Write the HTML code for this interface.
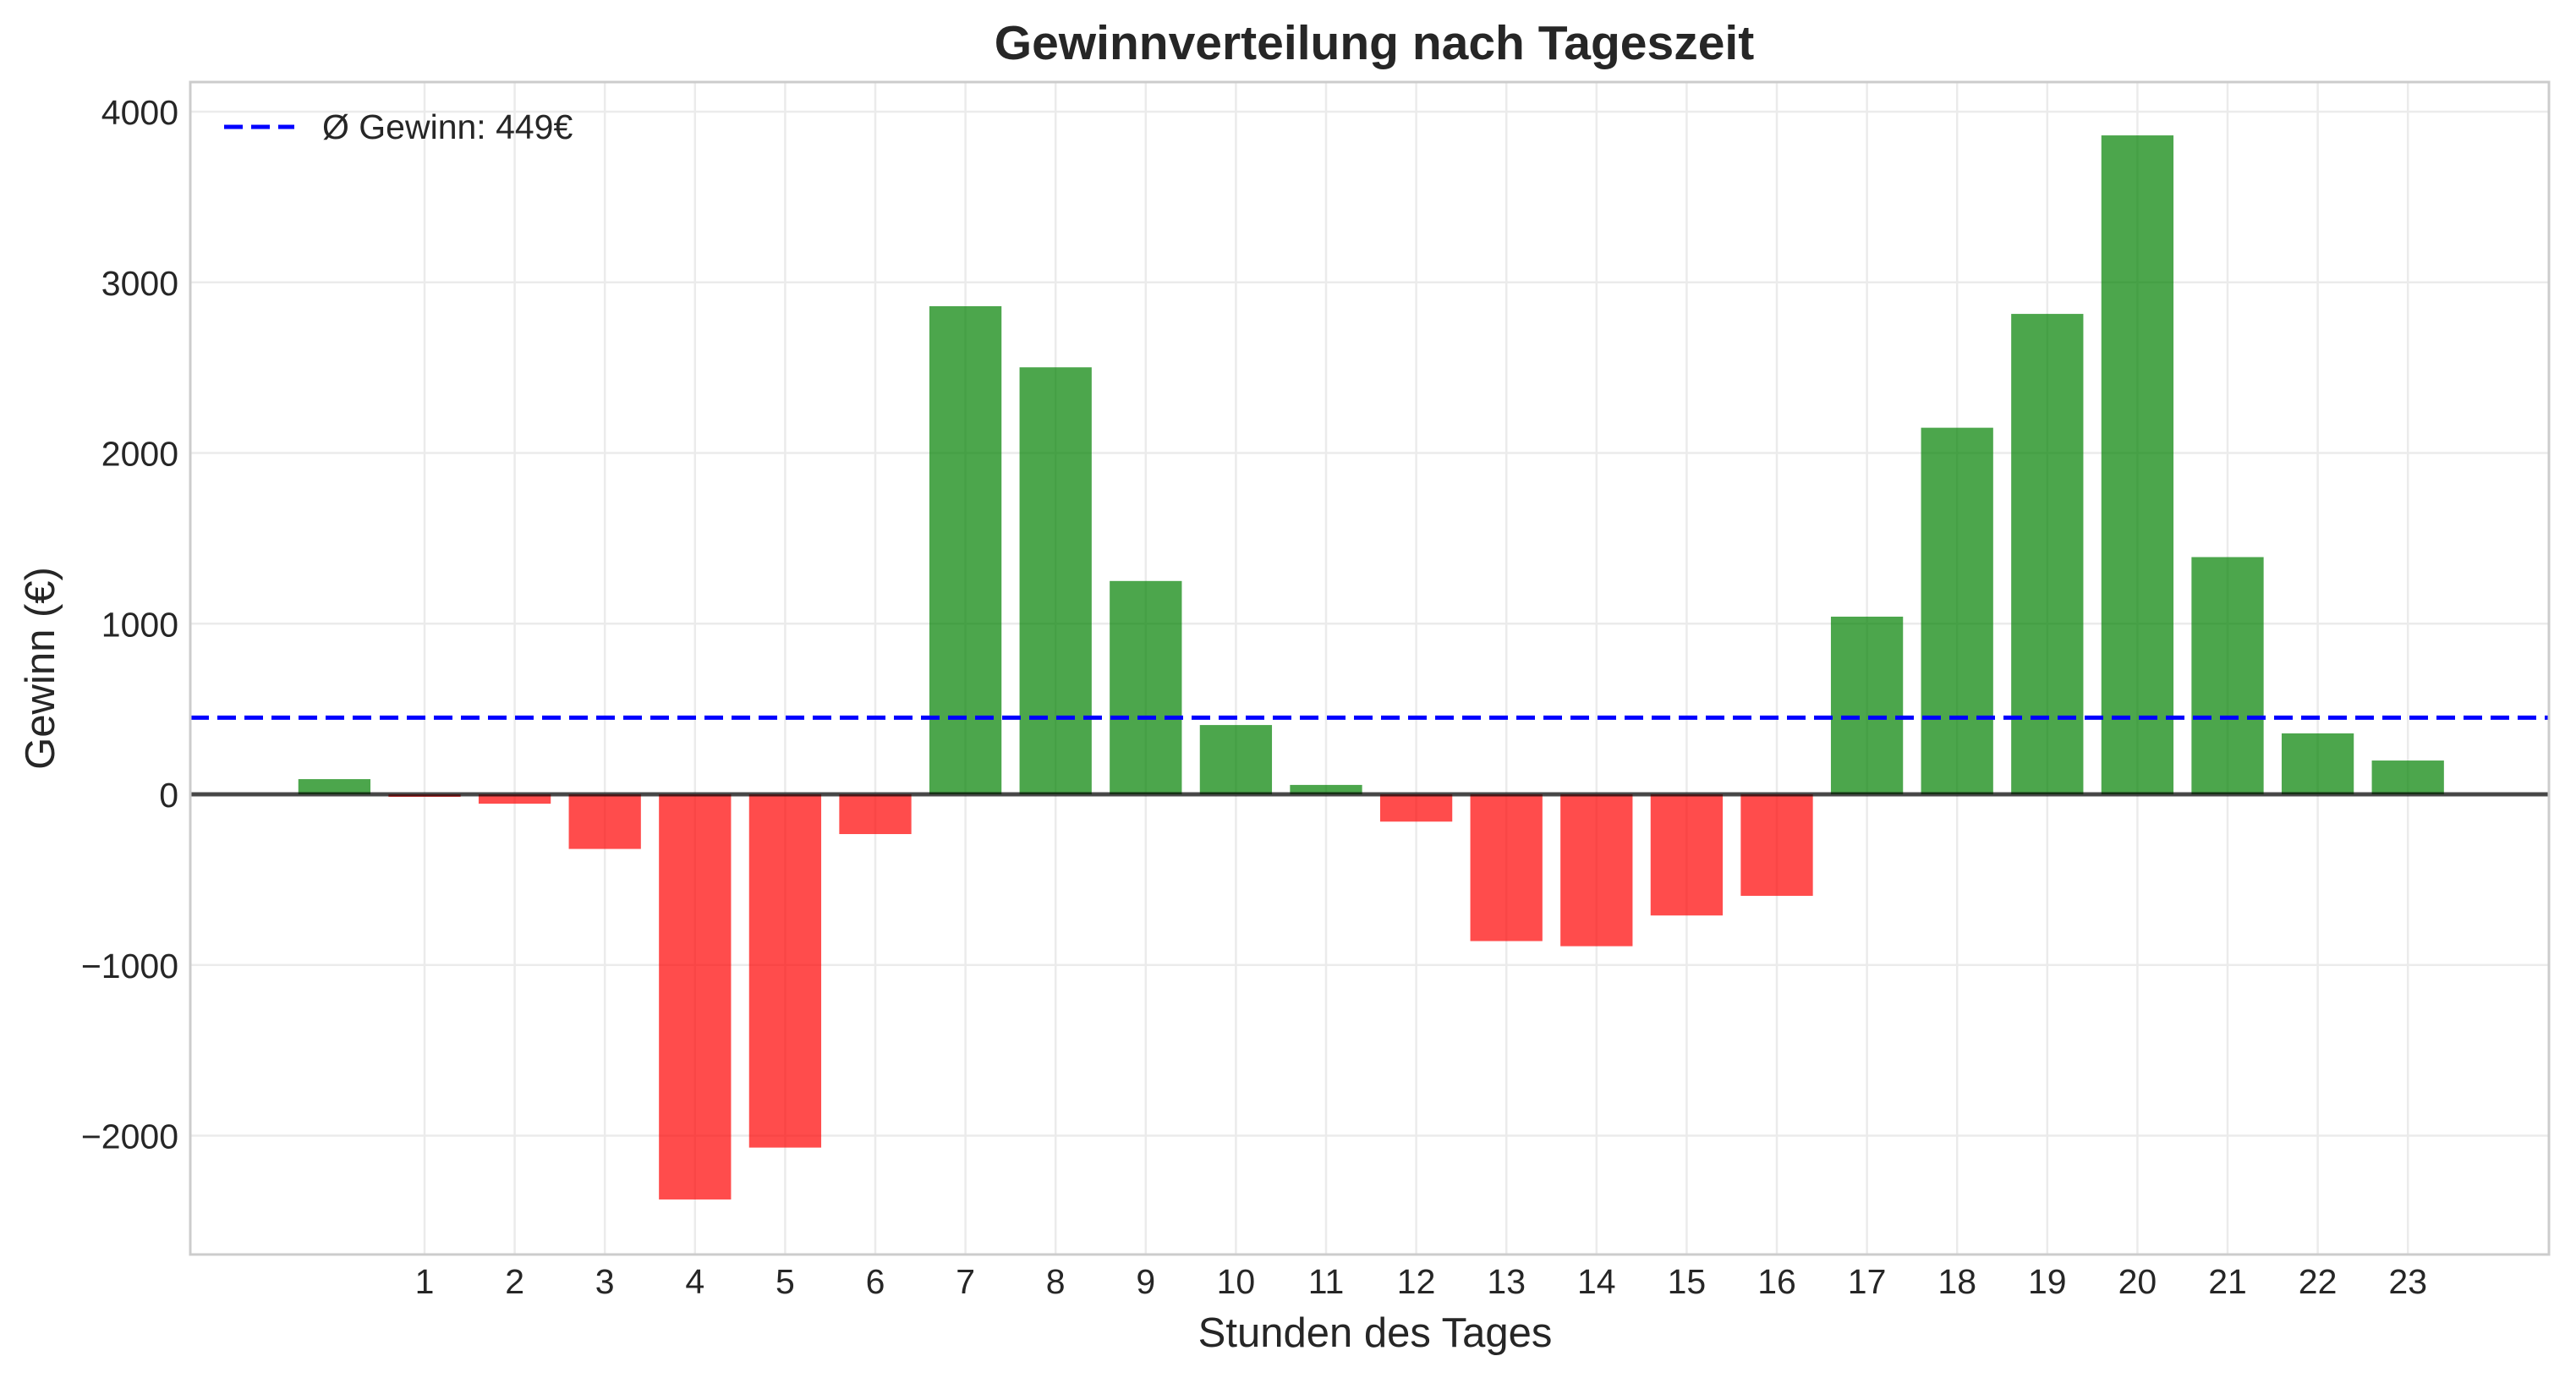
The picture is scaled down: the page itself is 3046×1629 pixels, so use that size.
<!DOCTYPE html>
<html><head><meta charset="utf-8"><style>
html,body{margin:0;padding:0;background:#fff;}
svg{display:block;font-family:"Liberation Sans",Arial,sans-serif;}
</style></head><body>
<svg id="chart" width="3046" height="1629" viewBox="0 0 3046 1629">
<rect x="0" y="0" width="3046" height="1629" fill="#fff"/>
<text x="1625" y="70" text-anchor="middle" font-size="57" font-weight="bold" fill="#262626">Gewinnverteilung nach Tageszeit</text>
<g id="grid"></g>
<g id="bars"></g>
<g id="overlay"></g>
<g id="axes"></g>
<text x="1626" y="1592" text-anchor="middle" font-size="49" fill="#262626">Stunden des Tages</text>
<text transform="translate(64,790) rotate(-90)" text-anchor="middle" font-size="49" fill="#262626">Gewinn (€)</text>
<g>
<line x1="265" y1="150" x2="348" y2="150" stroke="#0000ff" stroke-width="5" stroke-dasharray="22,10"/>
<text x="381" y="164" font-size="41" fill="#262626">Ø Gewinn: 449€</text>
</g>
</svg>
<script>
const hours = [0,1,2,3,4,5,6,7,8,9,10,11,12,13,14,15,16,17,18,19,20,21,22,23];
const profits = [89,-15,-55,-320,-2374,-2070,-233,2860,2502,1250,406,55,-160,-860,-890,-710,-595,1041,2148,2815,3861,1390,357,198];
const yTicks = [-2000,-1000,0,1000,2000,3000,4000];
const yTickLabels = ["\u22122000","\u22121000","0","1000","2000","3000","4000"];
const xTicks = [1,2,3,4,5,6,7,8,9,10,11,12,13,14,15,16,17,18,19,20,21,22,23];
const meanProfit = [449];

const L=225,R=3014,T=97,B=1483;
function xs(h){return 502+(h-1)*106.6;}
function ys(v){return 939-v*0.20175;}
const NS="http://www.w3.org/2000/svg";
function mk(tag,attrs,parent){const e=document.createElementNS(NS,tag);for(const k in attrs)e.setAttribute(k,attrs[k]);parent.appendChild(e);return e;}
const grid=document.getElementById('grid'),bars=document.getElementById('bars'),ov=document.getElementById('overlay'),axes=document.getElementById('axes');

yTicks.forEach((t,i)=>{
  const l=mk('line',{x1:L,x2:R,y1:ys(t),y2:ys(t),stroke:'#ebebeb','stroke-width':2.5},grid);
  
  
  const tx=mk('text',{x:L-14,y:ys(t)+15,'text-anchor':'end','font-size':41,fill:'#262626'},axes);
  tx.textContent=yTickLabels[i];
  
  
});
xTicks.forEach(t=>{
  const l=mk('line',{x1:xs(t),x2:xs(t),y1:T,y2:B,stroke:'#ebebeb','stroke-width':2.5},grid);
  
  
  const tx=mk('text',{x:xs(t),y:B+46,'text-anchor':'middle','font-size':41,fill:'#262626'},axes);
  tx.textContent=String(t);
  
  
});
const bw=0.8*106.6;
hours.forEach((h,i)=>{
  const v=profits[i];
  const y0=ys(0),y1=ys(v);
  const r=mk('rect',{x:xs(h)-bw/2,y:Math.min(y0,y1),width:bw,height:Math.max(Math.abs(y1-y0),0.5),fill:v>=0?'#008000':'#ff0000','fill-opacity':0.7},bars);
  
  
});
const z=mk('line',{x1:L,x2:R,y1:ys(0),y2:ys(0),stroke:'#000','stroke-opacity':0.7,'stroke-width':5},ov);


const m=mk('line',{x1:L,x2:R,y1:ys(meanProfit[0]),y2:ys(meanProfit[0]),stroke:'#0000ff','stroke-width':5,'stroke-dasharray':'22,10'},ov);


const f=mk('rect',{x:L,y:T,width:R-L,height:B-T,fill:'none',stroke:'#cccccc','stroke-width':3},axes);


</script>
</body></html>
